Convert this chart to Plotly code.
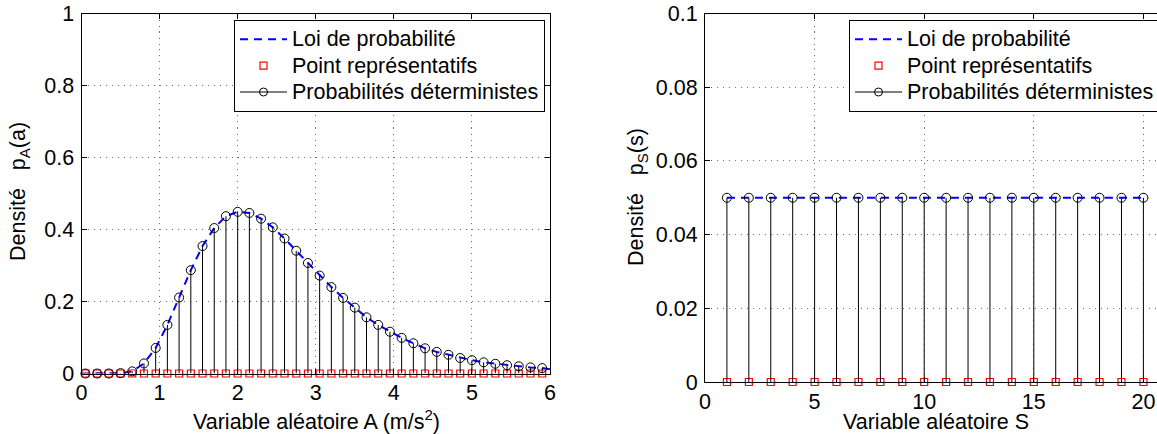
import plotly.graph_objects as go

# ---------------- data ----------------
a_x = [0.05, 0.2, 0.35, 0.5, 0.65, 0.8, 0.95, 1.1, 1.25, 1.4,
       1.55, 1.7, 1.85, 2.0, 2.15, 2.3, 2.45, 2.6, 2.75, 2.9,
       3.05, 3.2, 3.35, 3.5, 3.65, 3.8, 3.95, 4.1, 4.25, 4.4,
       4.55, 4.7, 4.85, 5.0, 5.15, 5.3, 5.45, 5.6, 5.75, 5.9]
a_p = [0.0, 0.0, 0.0, 0.001, 0.006, 0.028, 0.071, 0.135, 0.211, 0.287,
       0.354, 0.404, 0.437, 0.449, 0.446, 0.430, 0.406, 0.375, 0.341, 0.307,
       0.272, 0.240, 0.210, 0.183, 0.156, 0.135, 0.116, 0.099, 0.084, 0.070,
       0.060, 0.052, 0.043, 0.037, 0.031, 0.027, 0.023, 0.020, 0.017, 0.015]
a_curve_x = [0.0] + a_x + [6.0]
a_curve_p = [0.0] + a_p + [0.012]

s_x = [1, 2, 3, 4, 5, 6, 7, 8, 9, 10, 11, 12, 13, 14, 15, 16, 17, 18, 19, 20]
s_p = [0.05, 0.05, 0.05, 0.05, 0.05, 0.05, 0.05, 0.05, 0.05, 0.05,
       0.05, 0.05, 0.05, 0.05, 0.05, 0.05, 0.05, 0.05, 0.05, 0.05]

legend_names = ["Loi de probabilité", "Point représentatifs", "Probabilités déterministes"]

FONT = "Liberation Sans, Arial, Helvetica, sans-serif"
FS = 21.5
W, H = 1157, 434


def big(t):
    return '<span style="font-size:%spx">%s</span>' % (FS, t)


def stems(xs, ys):
    sx, sy = [], []
    for x, y in zip(xs, ys):
        sx += [x, x, None]
        sy += [0, y, None]
    return sx, sy


fig = go.Figure()


def add_panel(xs, ys, cx, cy, xa, ya, leg):
    # law of probability (dashed blue)
    fig.add_trace(go.Scatter(x=cx, y=cy, mode="lines", name=big(legend_names[0]),
                             line=dict(color="#0000ff", width=2, dash="8px,6px"),
                             xaxis=xa, yaxis=ya, legend=leg, cliponaxis=False))
    # representative points (red squares at 0)
    fig.add_trace(go.Scatter(x=xs, y=[0] * len(xs), mode="markers", name=big(legend_names[1]),
                             marker=dict(symbol="square-open", size=7,
                                         line=dict(color="#ff0000", width=1.2), color="#ff0000"),
                             xaxis=xa, yaxis=ya, legend=leg, cliponaxis=False))
    # stems
    sx, sy = stems(xs, ys)
    fig.add_trace(go.Scatter(x=sx, y=sy, mode="lines", showlegend=False,
                             line=dict(color="black", width=1),
                             xaxis=xa, yaxis=ya, cliponaxis=False, hoverinfo="skip"))
    fig.add_trace(go.Scatter(x=xs, y=ys, mode="markers", showlegend=False,
                             marker=dict(symbol="circle-open", size=9,
                                         line=dict(color="black", width=1), color="black"),
                             xaxis=xa, yaxis=ya, cliponaxis=False))
    # legend entry for stems
    fig.add_trace(go.Scatter(x=[None], y=[None], mode="lines+markers", name=big(legend_names[2]),
                             line=dict(color="black", width=1),
                             marker=dict(symbol="circle-open", size=8,
                                         line=dict(color="black", width=1)),
                             xaxis=xa, yaxis=ya, legend=leg))


add_panel(a_x, a_p, a_curve_x, a_curve_p, "x", "y", "legend")
add_panel(s_x, s_p, s_x, s_p, "x2", "y2", "legend2")

grid = dict(showgrid=True, gridcolor="#6e6e6e", gridwidth=1, griddash="1px,5px",
            zeroline=False, showline=True, linecolor="black", linewidth=1,
            ticks="inside", ticklen=5, tickwidth=1, tickcolor="black",
            tickfont=dict(family=FONT, size=FS, color="black"))

LEG_FS = 18
leg_common = dict(yanchor="top", y=1 - 20 / H, xanchor="left",
                  bordercolor="black", borderwidth=1, bgcolor="white",
                  font=dict(family=FONT, size=LEG_FS, color="black"),
                  tracegroupgap=0, itemwidth=47)
fig.update_layout(
    width=W, height=H,
    margin=dict(l=0, r=0, t=0, b=0, autoexpand=False),
    paper_bgcolor="white", plot_bgcolor="white",
    font=dict(family=FONT, size=FS, color="black"),
    xaxis=dict(domain=[81.5 / W, 550 / W], range=[0, 6], dtick=1, tick0=0,
               mirror="allticks", anchor="y", **grid),
    yaxis=dict(domain=[(H - 373.5) / H, (H - 13.5) / H], range=[0, 1], dtick=0.2, tick0=0,
               mirror="allticks", anchor="x", ticklabelstandoff=2, **grid),
    xaxis2=dict(domain=[705 / W, 1.0], range=[0, (1157 - 705) / 21.92], dtick=5, tick0=0,
                mirror="allticks", anchor="y2", **grid),
    yaxis2=dict(domain=[(H - 382) / H, (H - 13.5) / H], range=[0, 0.1], dtick=0.02, tick0=0,
                mirror=False, anchor="x2", ticklabelstandoff=2, **grid),
    legend=dict(x=234 / W, **leg_common),
    legend2=dict(x=849 / W, **leg_common),
    showlegend=True,
)

ann = dict(xref="paper", yref="paper", showarrow=False,
           font=dict(family=FONT, size=FS, color="black"))
fig.add_annotation(text="Variable aléatoire A (m/s<sup>2</sup>)", x=316 / W, y=1 - 420 / H,
                   xanchor="center", yanchor="middle", **ann)
fig.add_annotation(text="Variable aléatoire S", x=935.5 / W, y=1 - 422 / H,
                   xanchor="center", yanchor="middle", **ann)
fig.add_annotation(text="Densité\u00a0\u00a0\u00a0p<sub>A</sub>(a)", x=19 / W, y=1 - 192 / H,
                   xanchor="center", yanchor="middle", textangle=-90, **ann)
fig.add_annotation(text="Densité\u00a0\u00a0\u00a0p<sub>S</sub>(s)", x=637 / W, y=1 - 197 / H,
                   xanchor="center", yanchor="middle", textangle=-90, **ann)

fig.write_html("out.html",
               config={"displayModeBar": False},
               post_script="document.body.style.margin='0px';"
                           "document.body.style.overflow='hidden';")
